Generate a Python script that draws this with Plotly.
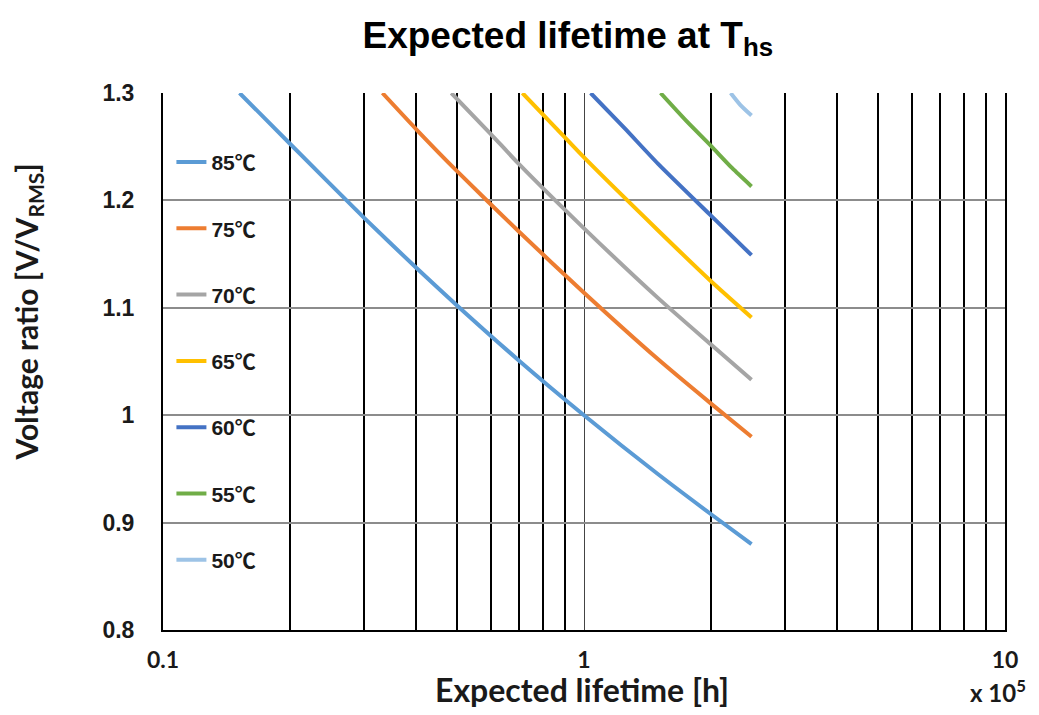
import plotly.graph_objects as go

# Data (lifetime in units of 1e5 h, voltage ratio)
names = ["85℃", "75℃", "70℃", "65℃", "60℃", "55℃", "50℃"]
colors = ["#5B9BD5", "#ED7D31", "#A5A5A5", "#FFC000", "#4472C4", "#70AD47", "#9DC3E6"]

x_85 = [0.152, 0.2, 0.3, 0.4, 0.5, 0.7, 1.0, 1.5, 2.0, 2.5]
y_85 = [1.300, 1.253, 1.184, 1.137, 1.102, 1.051, 1.000, 0.945, 0.908, 0.880]

x_75 = [0.332, 0.4, 0.5, 0.7, 1.0, 1.5, 2.0, 2.5]
y_75 = [1.300, 1.266, 1.227, 1.171, 1.114, 1.052, 1.011, 0.980]

x_70 = [0.484, 0.6, 0.7, 1.0, 1.5, 2.0, 2.5]
y_70 = [1.300, 1.262, 1.234, 1.174, 1.109, 1.066, 1.033]

x_65 = [0.714, 0.85, 1.0, 1.5, 2.0, 2.5]
y_65 = [1.300, 1.269, 1.240, 1.172, 1.125, 1.091]

x_60 = [1.037, 1.25, 1.5, 2.0, 2.5]
y_60 = [1.300, 1.267, 1.234, 1.186, 1.149]

x_55 = [1.52, 1.75, 2.0, 2.25, 2.5]
y_55 = [1.300, 1.274, 1.251, 1.230, 1.213]

x_50 = [2.23, 2.35, 2.5]
y_50 = [1.300, 1.289, 1.279]

series_x = [x_85, x_75, x_70, x_65, x_60, x_55, x_50]
series_y = [y_85, y_75, y_70, y_65, y_60, y_55, y_50]

x_major = [0.1, 1, 10]
x_major_text = ["0.1", "1", "10"]
x_minor = [0.2, 0.3, 0.4, 0.5, 0.6, 0.7, 0.8, 0.9, 2, 3, 4, 5, 6, 7, 8, 9]
y_ticks = [0.8, 0.9, 1.0, 1.1, 1.2, 1.3]
y_tick_text = ["0.8", "0.9", "1", "1.1", "1.2", "1.3"]

fig = go.Figure()
for i, (nm, c, xs, ys) in enumerate(zip(names, colors, series_x, series_y)):
    fig.add_trace(go.Scatter(
        x=xs, y=ys, mode="lines", name=nm, legendgroup=nm,
        line=dict(color=c, width=4, shape="spline", smoothing=0.6),
    ))

fig.update_layout(
    width=1031, height=707,
    paper_bgcolor="white", plot_bgcolor="white",
    margin=dict(l=155, r=34, t=85, b=85, autoexpand=False),
    title=dict(
        text="Expected lifetime at T<sub>hs</sub>",
        x=0.543, xanchor="center", y=0.962, yanchor="middle",
        font=dict(family="Liberation Sans Narrow, Liberation Sans, Arial", size=37, color="black", weight="bold"),
    ),
    showlegend=True,
    legend=dict(
        x=0.01, xanchor="left", y=0.909, yanchor="top",
        bgcolor="rgba(0,0,0,0)", borderwidth=0,
        font=dict(family="Liberation Sans, Noto Sans CJK SC, Arial", size=21, color="#1a1a1a", weight="bold"),
        tracegroupgap=36, itemwidth=30,
    ),
    font=dict(family="Liberation Sans, Arial", color="black"),
)

fig.update_xaxes(
    type="log", range=[-1, 1], automargin=False,
    tickmode="array", tickvals=x_major, ticktext=x_major_text,
    tickfont=dict(family="Lato, Open Sans", size=23, color="#1a1a1a", weight="bold"),
    ticks="", ticklabelstandoff=8,
    showgrid=True, gridcolor="#444444", gridwidth=1,
    minor=dict(tickvals=x_minor, showgrid=True, gridcolor="black", gridwidth=2, ticks=""),
    showline=True, linecolor="black", linewidth=2, mirror=False,
    zeroline=False,
)
fig.update_yaxes(
    range=[0.8, 1.3], automargin=False,
    tickmode="array", tickvals=y_ticks, ticktext=y_tick_text,
    tickfont=dict(family="Liberation Sans, Arial", size=23, color="#1a1a1a", weight="bold"),
    ticks="", ticklabelstandoff=22,
    showgrid=True, gridcolor="#8c8c8c", gridwidth=2,
    showline=True, linecolor="black", linewidth=2, mirror=True,
    zeroline=False,
)

title_font = dict(family="Lato, Open Sans", size=32, color="#1a1a1a", weight="bold")
fig.add_annotation(
    text="Expected lifetime [h]", xref="paper", yref="paper",
    x=0.498, y=-0.110, xanchor="center", yanchor="middle", showarrow=False,
    font=title_font,
)
fig.add_annotation(
    text="Voltage ratio [V/V<sub>RMS</sub>]", xref="paper", yref="paper",
    x=-0.160, y=0.592, xanchor="center", yanchor="middle", showarrow=False,
    textangle=-90, font=dict(family="Lato, Open Sans", size=30, color="#1a1a1a", weight="bold"),
)
fig.add_annotation(
    text="<b>x 10<sup>5</sup></b>", xref="paper", yref="paper",
    x=0.992, y=-0.114, xanchor="center", yanchor="middle", showarrow=False,
    font=dict(family="Lato, Open Sans", size=24, color="#1a1a1a", weight="bold"),
)

fig.write_html("out.html")
